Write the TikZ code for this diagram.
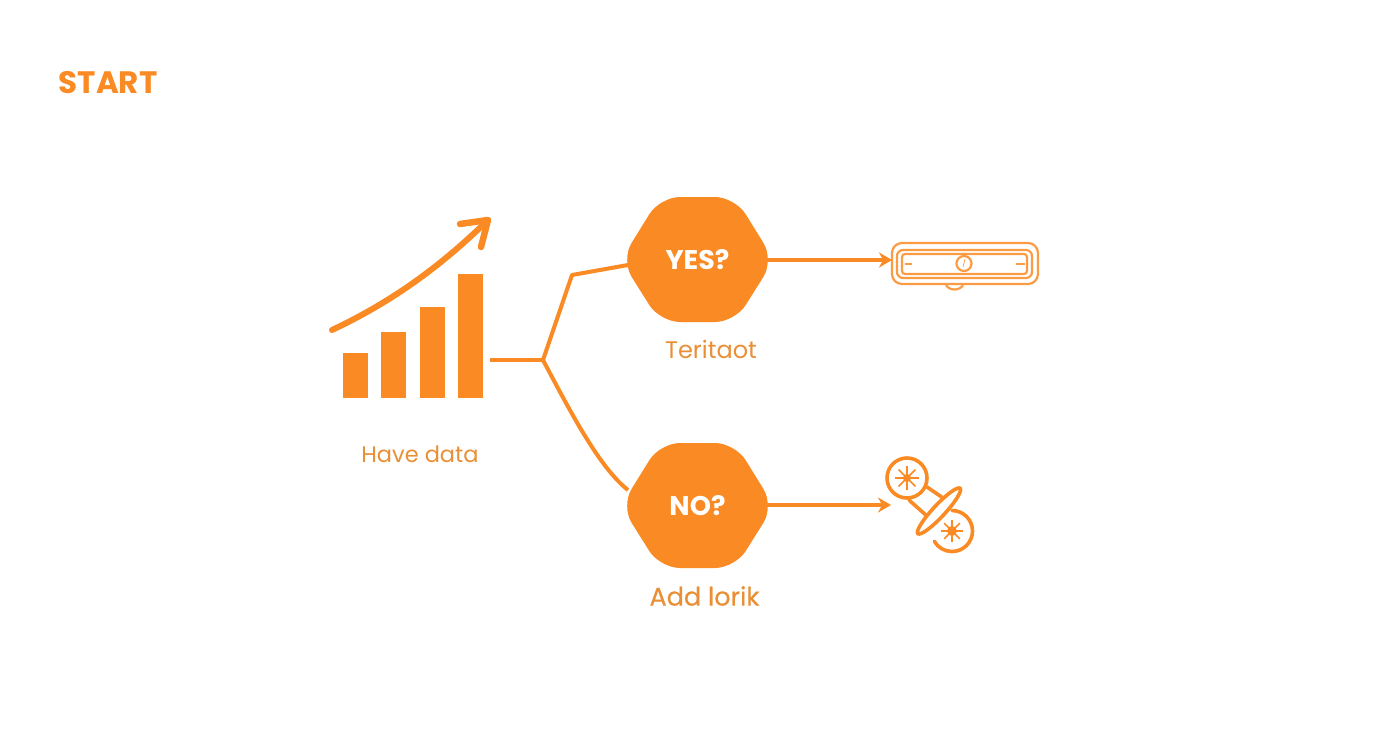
\documentclass[tikz,border=0pt]{standalone}
\usepackage{fontspec}
\setmainfont{Poppins}
\usetikzlibrary{arrows.meta}
\definecolor{brandorange}{HTML}{FA8A24}
\definecolor{labelorange}{HTML}{E98F35}

\begin{document}
\begin{tikzpicture}[
  x=1pt,
  y=-1pt,
  >={Stealth[length=13pt,width=15pt]},
  line/.style={draw=brandorange, line width=4pt},
  iconline/.style={draw=brandorange!85, line width=2.2pt},
  gearline/.style={draw=brandorange, line width=3.6pt, line cap=round},
  hexfill/.style={fill=brandorange, rounded corners=20pt},
  hexlabel/.style={minimum width=139pt, minimum height=125pt, inner sep=0pt, outer sep=0pt, text=white, font=\fontsize{27}{30}\selectfont\bfseries},
  caption/.style={text=labelorange, inner sep=0pt, font=\fontsize{22.5}{28}\selectfont}
]

\useasboundingbox (0,0) rectangle (1392,752);
\fill[white] (0,0) rectangle (1392,752);

% Title
\node[inner sep=0pt, text=brandorange, font=\fontsize{31}{34}\selectfont\bfseries] (start) at (108,83) {START};

% Bars and rising arrow
\foreach \xa/\ytop in {343/353, 381/332, 420/307, 458/274}
  \fill[brandorange] (\xa,\ytop) rectangle (\xa+25,398);
\draw[brandorange, line width=6pt, line cap=round, line join=round]
  (332,330) .. controls (385,305) and (435,272) .. (488,220);
\draw[brandorange, line width=6.5pt, line cap=round, line join=round]
  (460,224) -- (488,220) -- (481,247);
\node[caption] (havedata) at (420,454) {Have data};

% Decision hexagons
\fill[hexfill] (621,260) -- (660,197) -- (735,197) -- (774,260) -- (735,322) -- (660,322) -- cycle;
\node[hexlabel] (yes) at (697.5,260) {YES?};
\node[caption, font=\fontsize{24}{28}\selectfont] (teritaot) at (711,349) {Teritaot};

\fill[hexfill] (621,506) -- (660,443) -- (735,443) -- (774,506) -- (735,568) -- (660,568) -- cycle;
\node[hexlabel] (no) at (697.5,506) {NO?};
\node[caption, font=\fontsize{25.5}{30}\selectfont\addfontfeature{FakeBold=0.4}] (addlorik) at (704.5,596) {Add lorik};

% Branches
\coordinate (barsend) at (490,360);
\coordinate (fork) at (543,360);
\coordinate (bend) at (572,275);
\draw[line] (barsend) -- (fork);
\draw[line, line join=round] (fork) -- (bend) -- (yes.west |- 0,265);
\draw[line] (fork) .. controls (572,415) and (600,468) .. (no.west |- 0,490);

% Device icon
\node[iconline, rectangle, rounded corners=10pt, minimum width=146pt, minimum height=41pt, inner sep=0pt, outer sep=0pt] (device) at (965,263.5) {};
\node[iconline, rectangle, rounded corners=6pt, minimum width=135pt, minimum height=28pt, inner sep=0pt] (devicemid) at (964.5,264) {};
\node[iconline, rectangle, rounded corners=3pt, minimum width=125pt, minimum height=20pt, inner sep=0pt] (deviceinner) at (964.5,264) {};
\node[iconline, circle, minimum size=15pt, inner sep=0pt] (dial) at (964,263.5) {};
\draw[brandorange, line width=0.6pt] (965,259) -- (963,267);
\draw[iconline] (905,264) -- (912,264);
\draw[iconline] (1016,264) -- (1025,264);
\draw[iconline] (946,285) .. controls (949,291) and (960,291) .. (963,285);

% Gear icon
\coordinate (gearleft) at (907,478);
\coordinate (gearright) at (952,531);
\coordinate (gearin) at (891,505);
\draw[gearline] (gearleft) circle (20);
\draw[gearline] (gearright) ++(-90:20.5) arc (-90:150:20.5);
\foreach \ang in {0,45,...,315} {
  \draw[brandorange, line width=1.6pt] (gearleft) -- ++(\ang:12);
  \draw[brandorange, line width=1.6pt] (gearright) -- ++(\ang:11);
}
\fill[brandorange] (gearleft) circle (4);
\fill[brandorange] (gearright) circle (5);
\draw[gearline] (927,487) -- (946,500);
\draw[gearline] (909,500) -- (928,517);
\draw[gearline, fill=white, rotate around={47:(939,511)}] (939,511) ellipse (31 and 6);

% Arrows
\draw[line, ->] (yes.east) -- (device.west |- yes.east);
\draw[line, ->] (no.east |- gearin) -- (gearin);

\end{tikzpicture}
\end{document}
